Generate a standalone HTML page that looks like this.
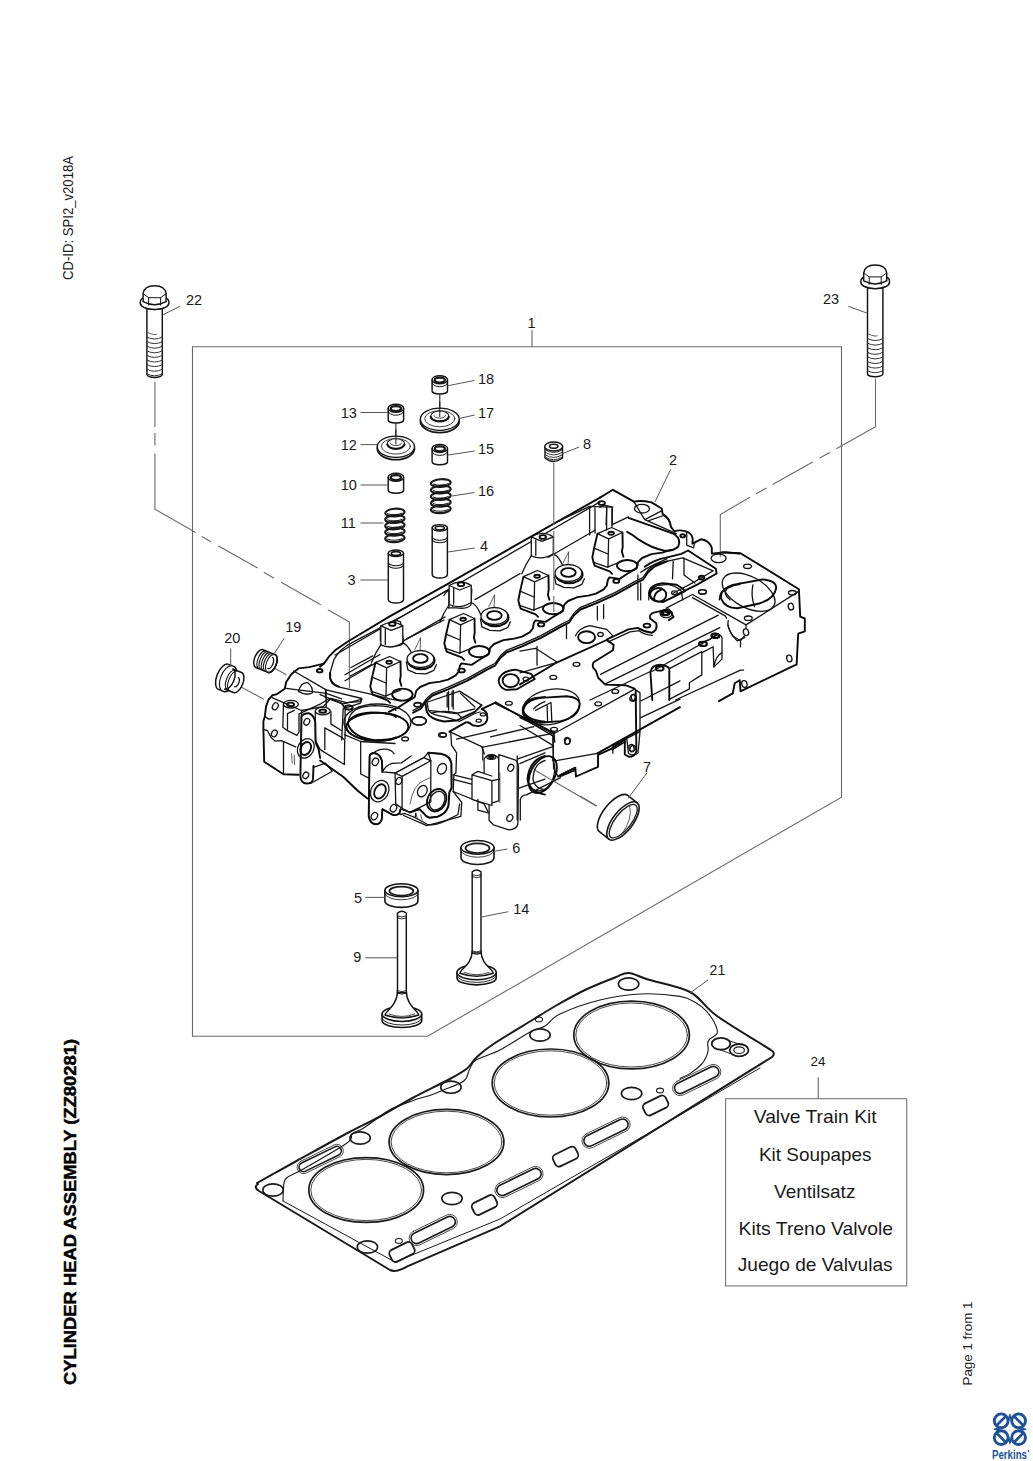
<!DOCTYPE html>
<html><head><meta charset="utf-8">
<style>
html,body{margin:0;padding:0;background:#fff;width:1033px;height:1461px;overflow:hidden}
svg{position:absolute;left:0;top:0;display:block}
text{font-family:"Liberation Sans",sans-serif;fill:#1a1a1a}
.fr{fill:none;stroke:#6a6a6a;stroke-width:1.1}
.ld{fill:none;stroke:#555;stroke-width:1}
.k{fill:#fff;stroke:#141414;stroke-width:1.45;stroke-linejoin:round;stroke-linecap:round}
.kn{fill:none;stroke:#141414;stroke-width:1.45;stroke-linejoin:round;stroke-linecap:round}
.t{fill:none;stroke:#333;stroke-width:0.8;stroke-linecap:round}
.h{fill:none;stroke:#141414;stroke-width:1.3;stroke-linejoin:round;stroke-linecap:round}
.hw{fill:#fff;stroke:#141414;stroke-width:1.3;stroke-linejoin:round;stroke-linecap:round}
.hb{fill:none;stroke:#0a0a0a;stroke-width:1.9;stroke-linejoin:round;stroke-linecap:round}
.hn{fill:none;stroke:#333;stroke-width:0.8;stroke-linejoin:round;stroke-linecap:round}
</style></head><body>
<svg width="1033" height="1461" viewBox="0 0 1033 1461">
<text transform="translate(72.5,280) rotate(-90)" font-size="15.5" textLength="124" lengthAdjust="spacingAndGlyphs">CD-ID: SPI2_v2018A</text>
<text transform="translate(76,1385) rotate(-90)" font-size="17.3" font-weight="bold" textLength="346" lengthAdjust="spacingAndGlyphs" style="fill:#000;stroke:#000;stroke-width:0.45">CYLINDER HEAD ASSEMBLY (ZZ80281)</text>
<text transform="translate(972,1385.5) rotate(-90)" font-size="13.3" textLength="84" lengthAdjust="spacingAndGlyphs">Page 1 from 1</text>
<path class="fr" d="M192.5,1036.3 L192.5,346.7 L841.5,346.7 L841.5,797.2 L427.5,1036.3 Z"/>
<path class="ld" d="M532,346.7 L532,330"/>
<text x="527.5" y="327.5" font-size="14.5">1</text>
<path class="fr" d="M154.9,381.7 V426.9 M154.9,433 V445.4 M154.9,453.6 V509.3 L195.7,532.5 M201.8,536.6 L211,541.7 M218.1,545.7 L257.7,568.1 M263.8,572.2 L274,578.3 M281.1,582.3 L320.8,604.7 M327.9,609.8 L349.4,622 V688"/>
<path class="fr" d="M875.5,378.5 V426.8 M875.5,426.8 L836.3,448.8 M830.2,452.2 L819.7,458.1 M812.7,462 L772.6,484.6 M766.5,488 L756,493.8 M749.9,497.3 L720.3,514.5 V557"/>
<path class="k" d="M146.9,303.2 V374.5 A7.7 3 0 0 0 162.3,374.5 V303.2 Z"/>
<path class="t" d="M147.9,332.5 Q154.6,335.7 156.6,334.3"/>
<path class="t" style="stroke-width:1" d="M146.9,337.1 Q154.6,341.1 162.3,337.1"/>
<path class="t" style="stroke-width:1" d="M146.9,341.7 Q154.6,345.7 162.3,341.7"/>
<path class="t" style="stroke-width:1" d="M146.9,346.3 Q154.6,350.3 162.3,346.3"/>
<path class="t" style="stroke-width:1" d="M146.9,350.9 Q154.6,354.9 162.3,350.9"/>
<path class="t" style="stroke-width:1" d="M146.9,355.5 Q154.6,359.5 162.3,355.5"/>
<path class="t" style="stroke-width:1" d="M146.9,360.1 Q154.6,364.1 162.3,360.1"/>
<path class="t" style="stroke-width:1" d="M146.9,364.7 Q154.6,368.7 162.3,364.7"/>
<path class="t" style="stroke-width:1" d="M146.9,369.3 Q154.6,373.3 162.3,369.3"/>
<path class="t" style="stroke-width:1" d="M146.9,373.9 Q154.6,377.9 162.3,373.9"/>
<path class="k" d="M140.3,303.2 A14.3 6.2 0 0 0 168.9,303.2 V301.7 A14.3 6.2 0 0 0 140.3,301.7 Z"/>
<path class="kn" style="stroke-width:0.9" d="M140.6,303.7 A14 6 0 0 0 168.6,303.7"/>
<path class="k" d="M143.1,301.7 V293.7 Q144.1,285.7 154.6,285.7 Q165.1,285.7 166.1,293.7 V301.7 Q154.6,307.7 143.1,301.7 Z"/>
<path class="kn" style="stroke-width:1" d="M143.1,293.7 L148.6,297.7 L160.6,297.7 L166.1,293.7 M148.6,297.7 V305.2 M160.6,297.7 V305.2"/>
<path class="k" d="M867.5,282.4 V373.8 A7.7 3 0 0 0 882.9,373.8 V282.4 Z"/>
<path class="t" d="M868.5,334 Q875.2,337.2 877.2,335.8"/>
<path class="t" style="stroke-width:1" d="M867.5,338.6 Q875.2,342.6 882.9,338.6"/>
<path class="t" style="stroke-width:1" d="M867.5,343.2 Q875.2,347.2 882.9,343.2"/>
<path class="t" style="stroke-width:1" d="M867.5,347.8 Q875.2,351.8 882.9,347.8"/>
<path class="t" style="stroke-width:1" d="M867.5,352.4 Q875.2,356.4 882.9,352.4"/>
<path class="t" style="stroke-width:1" d="M867.5,357 Q875.2,361 882.9,357"/>
<path class="t" style="stroke-width:1" d="M867.5,361.6 Q875.2,365.6 882.9,361.6"/>
<path class="t" style="stroke-width:1" d="M867.5,366.2 Q875.2,370.2 882.9,366.2"/>
<path class="t" style="stroke-width:1" d="M867.5,370.8 Q875.2,374.8 882.9,370.8"/>
<path class="k" d="M860.9,282.4 A14.3 6.2 0 0 0 889.5,282.4 V280.9 A14.3 6.2 0 0 0 860.9,280.9 Z"/>
<path class="kn" style="stroke-width:0.9" d="M861.2,282.9 A14 6 0 0 0 889.2,282.9"/>
<path class="k" d="M863.7,280.9 V272.9 Q864.7,264.9 875.2,264.9 Q885.7,264.9 886.7,272.9 V280.9 Q875.2,286.9 863.7,280.9 Z"/>
<path class="kn" style="stroke-width:1" d="M863.7,272.9 L869.2,276.9 L881.2,276.9 L886.7,272.9 M869.2,276.9 V284.4 M881.2,276.9 V284.4"/>
<text x="186" y="304.5" font-size="14.5">22</text>
<path class="ld" d="M163.2,314.7 L179.8,306.4"/>
<text x="823" y="304" font-size="14.5">23</text>
<path class="ld" d="M848.2,306.2 L867.2,313.2"/>
<g id="head">
<path class="hb" d="M272.6,695.2 L268.6,699.5 L266.1,706.3 L264.8,716.4 L263.4,721.2 L263.4,729.3 L264.2,761.8 L283.5,774.3 L298.6,774.8"/>
<path class="h" d="M283.5,742.2 L283.5,774.3"/>
<path class="h" d="M263.4,729.3 L267.5,730.7 L271,737.4 L275.3,741.2 L281.4,740.6 L295.7,746.9"/>
<path class="h" d="M264.8,716.4 L268.6,719.1 L271.9,718.5"/>
<ellipse class="h" cx="275.3" cy="706.3" rx="2.7" ry="3.7" transform="rotate(28 275.3 706.3)"/>
<ellipse class="h" cx="274.4" cy="733.4" rx="2.7" ry="3.5" transform="rotate(28 274.4 733.4)"/>
<path class="h" d="M283.5,703.6 L282.8,727.3 L287.5,730.7 L297,735.4 L299,732 L299,713.7"/>
<ellipse class="h" cx="290.9" cy="704.2" rx="7.5" ry="3.8"/>
<ellipse class="hb" cx="290.5" cy="704.4" rx="3.5" ry="1.8"/>
<path class="h" d="M287.5,729.3 L287.5,713.7 L294.3,710.3"/>
<path class="hn" d="M291.6,753.7 L292.3,763.2"/>
<path class="hn" d="M294.3,755.1 L294.6,764.5"/>
<path class="hb" d="M 301.4,716.4 L 300.4,776.7 Q 301.1,783.5 306.5,783.5 Q 311.9,783.5 313,779.4 L 313.5,765.9 M 301.4,716.4 Q 303.8,713 309.2,713.3 Q 314,715.1 315.3,722.5 L 315.7,742.9 L 318.7,749.6 L 320.1,757.8"/>
<ellipse class="h" cx="305.8" cy="748.3" rx="7.9" ry="10.2" transform="rotate(28 305.8 748.3)"/>
<ellipse class="hb" cx="305.8" cy="748.5" rx="4.9" ry="6.8" transform="rotate(28 305.8 748.5)"/>
<ellipse class="h" cx="306.8" cy="721.8" rx="2.7" ry="3.5" transform="rotate(28 306.8 721.8)"/>
<ellipse class="h" cx="305.8" cy="775.4" rx="2.7" ry="3.4" transform="rotate(28 305.8 775.4)"/>
<path class="h" d="M313.3,767.3 L325.5,763.2 L332.3,771.3 L310.6,783.5"/>
<path class="hb" d="M320.1,760.5 L343.1,776.7 L358,791 L367.5,798.4"/>
<path class="h" d="M299.7,713.7 L320.1,704.2 L328.9,698.8 L341.7,703.6 L344.4,707.6"/>
<ellipse class="h" cx="322.8" cy="711" rx="7.5" ry="3.8"/>
<ellipse class="hb" cx="322.8" cy="711.1" rx="3.5" ry="1.6"/>
<path class="h" d="M315.3,711 L315.3,740.1 L320.1,749.6 L344.4,764.5 L344.7,740.1 L341.7,737.4 L324.8,727.9 L324.8,749.6"/>
<path class="h" d="M330.9,711.7 L330.9,723.9 L341.7,730.7"/>
<path class="h" d="M341.7,703.6 L345.1,707.6 L345.1,738.8"/>
<ellipse class="h" cx="348.5" cy="707.6" rx="4.1" ry="2.2"/>
<path class="h" d="M 348.5,721.2 Q 349.9,706.3 374.3,705.6 Q 395,706.3 395.9,710.3"/>
<path class="hb" d="M 347.8,723.9 Q 349.9,713.7 371.6,712.4 Q 391.9,713 395.9,717.1 M 347.8,723.9 Q 352.6,737.4 374.3,740.1 Q 390.5,740.1 395.9,737.4"/>
<path class="h" d="M344.4,734.7 L360.7,741.5 L395,743.5"/>
<path class="h" d="M360.7,741.5 L360.7,774 L368.8,778.1"/>
<path class="h" d="M325.5,690 L325.5,698.1"/>
<ellipse class="h" cx="417.5" cy="704.8" rx="3.4" ry="1.9"/>
<ellipse class="h" cx="419.1" cy="721" rx="7.4" ry="4"/>
<ellipse class="h" cx="443.1" cy="735" rx="3.4" ry="1.9"/>
<ellipse class="h" cx="405.1" cy="738.9" rx="3.4" ry="1.9"/>
<ellipse class="h" cx="508.9" cy="703.2" rx="3.4" ry="1.9"/>
<ellipse class="h" cx="482.9" cy="714.4" rx="2.6" ry="1.5"/>
<ellipse class="h" cx="478.7" cy="720.7" rx="2.6" ry="1.5"/>
<path class="h" d="M481.8,746.9 L484.4,754"/>
<path class="h" d="M450.8,733.4 L451.6,745.1 L456.6,752.8 L455.9,772.9 L453.9,774.5 L453.2,791.5"/>
<path class="h" d="M453.2,774.8 L471.7,779.4"/>
<path class="h" d="M453.2,779.4 L471.7,784.1"/>
<path class="hb" d="M 522.9,711 Q 524.4,701.7 536.8,698.6 L 545,697 M 522.9,711 Q 527.5,720.3 545,721.8"/>
<path class="h" d="M 533.7,708.7 Q 539.9,703.2 545,701.7"/>
<path class="hb" d="M 545,755.9 Q 529,760.5 527.5,779.1 Q 529,791.5 545,794.6"/>
<path class="h" d="M 545,760.5 Q 533.7,763.6 532.9,779.1 Q 534.5,788.4 545,790"/>
<path class="h" d="M518.2,788.4 L545,779.1"/>
<path class="h" d="M519.8,763.6 L545,752.8"/>
<path class="h" d="M 403.6,815.5 L 426.8,825.6 L 460.9,816.3 L 461.7,802.4 L 453.2,791.5"/>
<path class="h" d="M453.2,791.5 L484.1,803.9 L488,811.7"/>
<path class="hn" d="M416,813.2 L417.5,819.4"/>
<path class="hn" d="M420.6,814.8 L422.2,820.2"/>
<path class="hw" d="M 484.1,774.5 L 484.1,759 Q 485.7,755.1 491.9,755.1 Q 498.1,755.6 498.8,759.3 L 498.8,776"/>
<ellipse class="h" cx="491.3" cy="757" rx="4.6" ry="2.3"/>
<ellipse class="hb" cx="491.3" cy="757.1" rx="2.2" ry="1.1"/>
<path class="hw" d="M 498.8,754.7 L 514.8,759.8 Q 518.5,762.1 518.5,766.7 L 517.9,824 Q 516.7,829.5 508.9,829.9 L 493.4,824.8 L 489.1,820.2 L 489.1,803.9 L 498.8,800.8 L 498.8,754.7"/>
<ellipse class="h" cx="510.8" cy="767.8" rx="2.8" ry="3.6" transform="rotate(28 510.8 767.8)"/>
<ellipse class="h" cx="509.8" cy="817.9" rx="2.8" ry="3.6" transform="rotate(28 509.8 817.9)"/>
<path class="hn" d="M499.9,772.9 L499.9,802.4"/>
<path class="hw" d="M 472,774.8 L 491.9,780.7 L 491.9,805.5 L 472,799.3 Z M 472,774.8 L 477.9,771.4 L 491.9,776"/>
<path class="h" d="M491.9,780.7 L499.6,779.1"/>
<path class="h" d="M477.9,799.3 L477.9,810.1 L489.1,813.2"/>
<path class="h" d="M 400.5,814.5 L 404.7,813.5 L 415.4,817.7 L 427.1,824.3 Q 434.5,826 445.2,821.1 L 458,814.5 L 459.6,803.9"/>
<path class="h" d="M415.4,817.7 L415.6,813.5"/>
<path class="hw" d="M 369.6,756 Q 370.4,753 374.4,753 Q 380.2,754.1 381.9,760.8 L 382.4,771.9 L 395.1,773 L 423.9,757.6 L 428.2,752.8 L 440.9,753.8 Q 450.5,756 451.4,763.4 L 451.6,787.9 L 449.4,792.2 L 448.4,806 Q 446.3,813.5 437.7,816.7 L 429.2,817.7 Q 426,816.7 423.9,813.5 L 419.6,809.2 L 410,812.4 L 400.5,809.2 L 399.4,813.5 Q 396.2,816.1 391.9,814.5 L 382.4,809.2 L 381.8,818.8 Q 381.1,823.6 376,824.3 Q 369.8,823.6 368.7,816.1 Z"/>
<path class="hb" d="M 369.6,756 Q 370.4,753 374.4,753 Q 380.2,754.1 381.9,760.8 L 382.4,771.9 M 369.6,756 L 368.7,816.1 Q 369.8,823.6 376,824.3 Q 381.1,823.6 381.8,818.8 L 382.4,809.2 L 391.9,814.5 Q 396.2,816.1 399.4,813.5 L 400.5,809.2"/>
<path class="h" d="M 382.4,771.9 Q 385.6,765.6 391.9,763.4 L 401.5,762.9 L 411.1,756 M 373.8,752.8 Q 378.1,748.5 386.6,749.1 Q 391.9,750.1 394.1,753.8"/>
<path class="hw" d="M 395.1,773.2 L 423.9,757.6 L 430.8,760.8 L 402.1,776.4 Z"/>
<path class="h" d="M 395.1,773.2 L 395.7,803.9 L 402.1,808.2 L 402.1,776.4 M 402.1,808.2 L 410,812.4 L 430.8,801.8 L 430.8,760.8"/>
<path class="hn" d="M 410,803.9 Q 413.2,784.7 423.9,780.5 L 430.8,777.3"/>
<path class="hb" d="M 428.2,752.8 L 440.9,753.8 Q 450.5,756 451.4,763.4 L 451.6,787.9 L 449.4,792.2 L 448.4,806 Q 446.3,813.5 437.7,816.7 L 429.2,817.7 Q 426,816.7 423.9,813.5 L 419.6,809.2 L 410,812.4"/>
<path class="h" d="M430.8,760.8 L428.2,752.8"/>
<ellipse class="h" cx="375.4" cy="761.8" rx="3" ry="3.8" transform="rotate(28 375.4 761.8)"/>
<ellipse class="h" cx="379.7" cy="791.1" rx="8.7" ry="11.2" transform="rotate(28 379.7 791.1)"/>
<ellipse class="hb" cx="380" cy="791.4" rx="5.3" ry="7.5" transform="rotate(28 380 791.4)"/>
<ellipse class="h" cx="374.4" cy="816.1" rx="3" ry="3.8" transform="rotate(28 374.4 816.1)"/>
<ellipse class="h" cx="393.5" cy="808.2" rx="3" ry="3.8" transform="rotate(28 393.5 808.2)"/>
<ellipse class="h" cx="398.9" cy="781" rx="2.8" ry="3.6" transform="rotate(28 398.9 781)"/>
<ellipse class="h" cx="422.3" cy="791.1" rx="4.5" ry="6" transform="rotate(28 422.3 791.1)"/>
<ellipse class="hb" cx="436.7" cy="800.2" rx="9.2" ry="11.7" transform="rotate(28 436.7 800.2)"/>
<ellipse class="h" cx="437.1" cy="800.7" rx="7.2" ry="9.8" transform="rotate(28 437.1 800.7)"/>
<ellipse class="h" cx="442" cy="768.8" rx="4.3" ry="5.5" transform="rotate(28 442 768.8)"/>
<path class="hb" d="M453.2,580.8 L389.7,616.4 L347.1,642 L335.5,650 L329.3,656.2 L323.9,663.6 L320,666.7"/>
<path class="h" d="M 453.2,587 L 400.5,617.2 L 352.5,642.3 Q 339.4,648.9 333.9,659.8 L 329.6,674.5 Q 329.6,684.5 339.4,687.2 L 369.6,693.8 L 392,699.3 L 401.3,700.8"/>
<path class="hb" d="M 330.1,672.9 Q 329,684.1 338.9,686.6"/>
<path class="h" d="M 351,667.5 L 372.7,655.9 M 406.7,638.9 L 443.9,620 M 350.2,676 L 371.9,664.4"/>
<path class="hw" d="M 386.6,629.3 Q 388.2,621.8 397.4,620.6 L 400.5,621.8 L 403.6,642 Q 402.1,646.6 392.8,645.8 L 386.6,642 Z"/>
<ellipse class="hb" cx="392.3" cy="624.9" rx="3.4" ry="1.9"/>
<path class="h" d="M 380.4,629.6 L 380.4,640.7 M 385.1,630.8 L 385.1,640.1 M 448.9,589.6 L 448.9,607.9 M 452.9,588.1 L 452.9,606.6"/>
<path class="h" d="M 443.9,595.5 Q 447,589.3 456.3,587.7 L 468.7,586.2 L 471.8,589.3 L 471,604.8 Q 467.1,609.4 456.3,607.9 L 448.6,607.9"/>
<ellipse class="hb" cx="460.9" cy="584.3" rx="3.4" ry="1.9"/>
<ellipse class="h" cx="417.9" cy="704.7" rx="3.9" ry="2.2"/>
<ellipse class="h" cx="419.1" cy="720.9" rx="7" ry="4.3"/>
<ellipse class="h" cx="349.1" cy="707.3" rx="3.9" ry="2.2"/>
<ellipse class="h" cx="442.4" cy="734.9" rx="3.9" ry="2.2"/>
<path class="h" d="M 320,694.6 L 343.2,703.9 L 361.8,699.3 L 360.6,703.1 L 343.2,708.6 L 341.7,740"/>
<path class="h" d="M 426.9,700.8 L 428.4,710.4 Q 431.5,715.1 443.9,716.6 L 459.4,721.3 L 474.9,713.5 L 480,712 M 428.4,710.4 L 456.3,713.5 L 474.9,708.9"/>
<path class="h" d="M 448.6,691.5 L 448.6,710.1 M 453.2,690.3 L 453.2,709.3 M 460.2,693.1 L 474.9,707"/>
<path class="h" d="M335,655 L600,501.9"/>
<path class="h" d="M345,674.7 L380,654.5"/>
<path class="h" d="M400,642.9 L445,616.9"/>
<path class="h" d="M475,599.6 L520,573.6"/>
<path class="h" d="M548,557.5 L595,530.3"/>
<path class="h" d="M345,680.7 L378,661.6"/>
<path class="hw" d="M380.8,625.9 L380.8,644.9 Q391.3,649.9 402.8,642.9 L402.8,625.9 Q392.3,618.9 380.8,625.9 Z"/>
<path class="h" d="M385.3,628.9 L385.3,644.4"/>
<path class="h" d="M380.8,625.9 L391.3,630.4 L402.8,625.9"/>
<path class="h" d="M380.8,644.9 Q375.3,652.9 371.3,662.9 M402.8,642.9 Q408.3,644.9 412.3,654.9"/>
<path class="hw" d="M449.2,585.5 L449.2,604.5 Q459.7,609.5 471.2,602.5 L471.2,585.5 Q460.7,578.5 449.2,585.5 Z"/>
<path class="h" d="M453.7,588.5 L453.7,604"/>
<path class="h" d="M449.2,585.5 L459.7,590 L471.2,585.5"/>
<path class="h" d="M449.2,604.5 Q443.7,612.5 439.7,622.5 M471.2,602.5 Q476.7,604.5 480.7,614.5"/>
<path class="hw" d="M531.3,536.8 L531.3,555.8 Q541.8,560.8 553.3,553.8 L553.3,536.8 Q542.8,529.8 531.3,536.8 Z"/>
<path class="h" d="M535.8,539.8 L535.8,555.3"/>
<path class="h" d="M531.3,536.8 L541.8,541.3 L553.3,536.8"/>
<path class="h" d="M531.3,555.8 Q525.8,563.8 521.8,573.8 M553.3,553.8 Q558.8,555.8 562.8,565.8"/>
<path class="hn" d="M414.9,649.3 L420.7,637.7 L420.1,649.3"/>
<ellipse class="hb" cx="421.2" cy="660.5" rx="13.4" ry="8.7"/>
<ellipse class="hw" cx="420.4" cy="659" rx="13.4" ry="8.5"/>
<ellipse class="hb" cx="420.4" cy="658.5" rx="7.3" ry="4.4"/>
<path class="h" d="M406.4,661.8 L407.9,669.8 L415.9,673.3 L425.9,673.8 L433.9,670.3 L436.4,664.8"/>
<ellipse class="hb" cx="402.4" cy="694.6" rx="10.2" ry="6"/>
<path class="hw" d="M375.5,662.6 L389.5,656.5 L400.5,661.5 L386.6,667.9 Z"/>
<ellipse class="hb" cx="389.1" cy="662.2" rx="2.8" ry="1.5"/>
<path class="h" d="M386.6,667.9 L386,695.8"/>
<path class="hb" d="M375.5,662.6 L372.1,677.2 L370.3,686.5 L372.6,694.6 L387.7,700.4 L390.1,702.8"/>
<path class="hb" d="M400.5,661.5 L400.7,675.8 L399.9,680.8 L401.4,685.8"/>
<path class="h" d="M372.1,677.2 L386,683"/>
<path class="h" d="M370.9,691.1 L386,696.3"/>
<path class="h" d="M386,695.8 L400.9,689.8"/>
<path class="hn" d="M488.9,606.3 L494.7,594.7 L494.1,606.3"/>
<ellipse class="hb" cx="495.2" cy="617.5" rx="13.4" ry="8.7"/>
<ellipse class="hw" cx="494.4" cy="616" rx="13.4" ry="8.5"/>
<ellipse class="hb" cx="494.4" cy="615.5" rx="7.3" ry="4.4"/>
<path class="h" d="M480.4,618.8 L481.9,626.8 L489.9,630.3 L499.9,630.8 L507.9,627.3 L510.4,621.8"/>
<ellipse class="hb" cx="479.2" cy="651.6" rx="10.2" ry="5.6"/>
<path class="hw" d="M449.5,619.6 L463.5,613.5 L474.5,618.5 L460.6,624.9 Z"/>
<ellipse class="hb" cx="463.1" cy="619.2" rx="2.8" ry="1.5"/>
<path class="h" d="M460.6,624.9 L460,652.8"/>
<path class="hb" d="M449.5,619.6 L446.1,634.2 L444.3,643.5 L446.6,651.6 L461.7,657.4 L464.1,659.8"/>
<path class="hb" d="M474.5,618.5 L474.7,632.8 L473.9,637.8 L475.4,642.8"/>
<path class="h" d="M446.1,634.2 L460,640"/>
<path class="h" d="M444.9,648.1 L460,653.3"/>
<path class="h" d="M460,652.8 L474.9,646.8"/>
<path class="hn" d="M562.9,563.3 L568.7,551.7 L568.1,563.3"/>
<ellipse class="hb" cx="569.2" cy="574.5" rx="13.4" ry="8.7"/>
<ellipse class="hw" cx="568.4" cy="573" rx="13.4" ry="8.5"/>
<ellipse class="hb" cx="568.4" cy="572.5" rx="7.3" ry="4.4"/>
<path class="h" d="M554.4,575.8 L555.9,583.8 L563.9,587.3 L573.9,587.8 L581.9,584.3 L584.4,578.8"/>
<ellipse class="hb" cx="553.2" cy="608.6" rx="10.2" ry="5.6"/>
<path class="hw" d="M523.5,576.6 L537.5,570.5 L548.5,575.5 L534.6,581.9 Z"/>
<ellipse class="hb" cx="537.1" cy="576.2" rx="2.8" ry="1.5"/>
<path class="h" d="M534.6,581.9 L534,609.8"/>
<path class="hb" d="M523.5,576.6 L520.1,591.2 L518.3,600.5 L520.6,608.6 L535.7,614.4 L538.1,616.8"/>
<path class="hb" d="M548.5,575.5 L548.7,589.8 L547.9,594.8 L549.4,599.8"/>
<path class="h" d="M520.1,591.2 L534,597"/>
<path class="h" d="M518.9,605.1 L534,610.3"/>
<path class="h" d="M534,609.8 L548.9,603.8"/>
<ellipse class="hb" cx="627.2" cy="565.6" rx="10.2" ry="5.6"/>
<path class="hw" d="M597.5,533.6 L611.5,527.5 L622.5,532.5 L608.6,538.9 Z"/>
<ellipse class="hb" cx="611.1" cy="533.2" rx="2.8" ry="1.5"/>
<path class="h" d="M608.6,538.9 L608,566.8"/>
<path class="hb" d="M597.5,533.6 L594.1,548.2 L592.3,557.5 L594.6,565.6 L609.7,571.4 L612.1,573.8"/>
<path class="hb" d="M622.5,532.5 L622.7,546.8 L621.9,551.8 L623.4,556.8"/>
<path class="h" d="M594.1,548.2 L608,554"/>
<path class="h" d="M592.9,562.1 L608,567.3"/>
<path class="h" d="M608,566.8 L622.9,560.8"/>
<path class="hb" d="M397.6,707.9 L404.6,703.3 L414.7,697.1 L416.2,690.9 L420.1,687 L429.4,683.1 L440.2,681.6 L448,679.7 L455.7,675.4 L458.8,671.5 L459.9,665.8 L461.5,663.4 L471.6,664.9 L478.6,660.3 L488.7,654.1 L490.2,647.9 L494.1,644 L503.4,640.1 L514.2,638.6 L522,636.7 L529.7,632.4 L532.8,628.5 L533.9,622.8 L535.5,620.4 L545.6,621.9 L552.6,617.3 L562.7,611.1 L564.2,604.9 L568.1,601 L577.4,597.1 L588.2,595.6 L596,593.7 L603.7,589.4 L606.8,585.5 L607.9,579.8 L609.5,577.4 L619.6,578.9 L626.6,574.3 L636.7,568.1 L638.2,561.9 L642.1,558 L651.4,554.1 L662.2,552.6 L670.9,549.8"/>
<path class="h" d="M413.1,710.4 L420.9,706.5 L426.3,698.8 L432.5,693.3 L448,687.1 L466.9,678.6 L487.1,667.4 L494.9,663.5 L500.3,655.8 L506.5,650.3 L522,644.1 L540.9,635.6 L561.1,624.4 L568.9,620.5 L574.3,612.8 L580.5,607.3 L596,601.1 L614.9,592.6 L635.1,581.4 L642.9,577.5 L648.3,569.8 L654.5,564.3 L666.9,558.8"/>
<path class="hb" d="M413.1,712.6 L420.9,708.7 L426.3,701 L432.5,695.5 L448,689.3 L466.9,680.8 L487.1,669.6 L494.9,665.7 L500.3,658 L506.5,652.5 L522,646.3 L540.9,637.8 L561.1,626.6 L568.9,622.7 L574.3,615 L580.5,609.5 L596,603.3 L614.9,594.8 L635.1,583.6 L642.9,579.7 L648.3,572 L654.5,566.5 L666.9,561.3"/>
<path class="hb" d="M397.6,707.9 L392.9,709.8 L388.9,711.8"/>
<ellipse class="hb" cx="392.3" cy="623.9" rx="3.2" ry="1.9"/>
<ellipse class="hb" cx="461" cy="584.2" rx="3.2" ry="1.9"/>
<ellipse class="hb" cx="542.8" cy="537" rx="3.2" ry="1.9"/>
<ellipse class="hb" cx="601.7" cy="503" rx="3.2" ry="1.9"/>
<path class="hb" d="M453,580.8 L600,497.6"/>
<path class="hb" d="M323.9,663.6 L309.2,667.1 L298.4,668.4 L291.6,673.9 L286.2,682 L284.8,688.8 L276.7,694.2 L272.6,695.1"/>
<ellipse class="hb" cx="461.6" cy="670.5" rx="3.2" ry="1.9"/>
<ellipse class="hb" cx="541.1" cy="624.5" rx="3.2" ry="1.9"/>
<path class="h" d="M558.6,521.1 L589.6,506.4 L611.3,507.2"/>
<path class="h" d="M589.6,507.2 L589.6,535"/>
<path class="h" d="M595,508 L595,533"/>
<path class="h" d="M606.6,507.5 L606.6,530"/>
<path class="h" d="M612,509 L612,527"/>
<path class="hb" d="M 600,497.6 L 612.9,489.8 L 633.9,501.7 Q 640.7,500.1 651.5,502.4 L 661.7,508.5 L 662.6,513.9 Q 669.8,517.7 671.2,527.4 L 674.3,531.2 Q 681.3,529.1 688.1,532.2 Q 692.7,534.9 692.7,539.6 L 692.4,543.7 L 701.4,539.2 Q 709.1,540.3 711.8,547.8 L 711.8,553.6 L 725,552.2 L 739.5,553.6"/>
<path class="h" d="M 600,507.1 L 604.1,505.1 L 612.9,507.1 M 606.8,507.1 L 606.1,524.7 M 612.2,507.1 L 612.2,524.7 M 612.2,524.7 L 628.5,516.9"/>
<path class="hb" d="M 628.5,517.9 Q 643.4,523.1 654.2,526.8 L 674.5,534.2 Q 681.6,539.6 678.2,546.7 Q 673.2,551.4 663.7,550.5 Q 651.5,548 639.3,539.9 Q 632.5,534.5 627.1,531.8"/>
<path class="h" d="M 644.7,519.6 L 662.3,527.4 L 676.2,533.7 M 633.9,501.7 L 644.7,519.6"/>
<ellipse class="h" cx="642" cy="508.7" rx="7.5" ry="4.3"/>
<path class="h" d="M 645.4,519.3 L 661,511.2 M 648.8,520.7 L 663.7,515.5 M 663.7,515.5 Q 669.8,519.3 670.5,526.1"/>
<ellipse class="hb" cx="682.7" cy="535.8" rx="2.4" ry="1.6"/>
<path class="h" d="M 686.7,531.5 L 686.7,545.1 L 693.5,547.8 M 694.9,542.3 L 693.5,547.8"/>
<ellipse class="hb" cx="616.3" cy="581" rx="3" ry="1.9"/>
<ellipse class="h" cx="702.3" cy="591.8" rx="3.8" ry="2.2"/>
<ellipse class="hb" cx="701.6" cy="577.6" rx="2.7" ry="1.9"/>
<path class="hb" d="M 644.7,566.7 Q 654.2,560 665.1,557.9 L 681.3,553.9 L 688.1,550.5 L 715.9,568.8 L 716.6,573.5 L 697.6,584.4 L 675.9,595.2"/>
<path class="h" d="M 640.7,572.2 Q 651.5,564.7 663.7,562 L 682.7,557.9 L 713.2,570.8 L 694.9,581.6 L 673.2,593.2"/>
<path class="h" d="M 673.2,561.3 L 672.5,578.9 M 684,557.9 L 684,574.9 L 694.9,583 M 640.7,583 L 640.7,599.9 M 637.9,574.9 L 637.9,599.9"/>
<path class="h" d="M 648.8,599.9 Q 647.4,589.8 656.9,585.7 L 667.8,584.4 Q 675.9,585.7 681.3,591.1 L 682.7,599.9"/>
<path class="hb" d="M 654.2,599.9 Q 653.5,592.5 661,589.8"/>
<ellipse class="h" cx="718.6" cy="558.3" rx="7.5" ry="4.3"/>
<path class="h" d="M 730.1,599.9 Q 722,593.8 727.4,588.4 L 740,583 M 719.3,599.9 Q 719.3,589.8 730.1,586.4 L 740,584.4"/>
<path class="hb" d="M 722,552.4 L 740.5,553.2 L 798.9,589.3 L 800.2,616.7 L 804.8,618.5 L 804.8,631.4 L 798.2,633.7 L 796.6,664.7 L 793.5,665.8 L 740.5,691.3 L 739.8,680.2 L 734.7,683.3 L 732.8,693.3 L 718.9,701.1"/>
<path class="h" d="M 798.9,591.1 L 746,624.9 L 692.5,594.5 L 666.2,608.2 L 666.2,612.8"/>
<path class="h" d="M 692.5,597.6 L 725.1,615.9 L 726.6,618.2"/>
<ellipse class="h" cx="748.6" cy="592.2" rx="28.7" ry="15.5" transform="rotate(28 748.6 592.2)"/>
<path class="hb" d="M 721.2,598.9 Q 718.9,589.6 732.8,584.9 L 762.2,579.5 Q 776.2,580.3 776.2,588 Q 774.6,598.9 759.1,603.5 L 737.4,608.2 Q 725.1,608.2 721.2,598.9 Z"/>
<path class="h" d="M 752.9,584.9 Q 750.6,595.8 754.5,606.6"/>
<ellipse class="h" cx="747.5" cy="566.3" rx="3.9" ry="2.2"/>
<ellipse class="h" cx="702.6" cy="591.9" rx="3.9" ry="2.2"/>
<ellipse class="h" cx="792.4" cy="592.7" rx="3.9" ry="2.2"/>
<ellipse class="h" cx="748.3" cy="618.2" rx="3.9" ry="2.2"/>
<ellipse class="h" cx="715" cy="635.3" rx="3.9" ry="2.2"/>
<ellipse class="h" cx="702.6" cy="643.8" rx="3.9" ry="2.2"/>
<ellipse class="h" cx="790.9" cy="606.6" rx="2.6" ry="3.4" transform="rotate(-15 790.9 606.6)"/>
<ellipse class="h" cx="746" cy="632.2" rx="2.6" ry="3.4" transform="rotate(-15 746 632.2)"/>
<ellipse class="h" cx="789.3" cy="658.5" rx="2.6" ry="3.4" transform="rotate(-15 789.3 658.5)"/>
<ellipse class="h" cx="744.4" cy="684" rx="2.6" ry="3.4" transform="rotate(-15 744.4 684)"/>
<ellipse class="h" cx="666.2" cy="613.6" rx="6.2" ry="4"/>
<ellipse class="hb" cx="666.2" cy="613.1" rx="3.4" ry="1.9"/>
<path class="h" d="M 728.2,620.5 Q 726.6,626.7 732.8,636 L 740.5,640.7 L 744.4,636 M 740.5,640.7 L 740.5,646.9"/>
<path class="h" d="M 746,624.9 L 746,628.3"/>
<path class="h" d="M 675.5,700 L 740.5,670.1 L 743.6,670.1"/>
<path class="hb" d="M 520,684.4 L 557.2,662.3 L 606.7,640 L 613.7,644.9 L 612.9,650.3 L 593.6,662.3 Q 590.9,666.9 595.9,670.8 L 598.2,677.8 L 605.2,684.6 L 625.3,685.2 L 634.6,688.6"/>
<path class="h" d="M 634.6,689.1 L 553.3,734 L 520,717.7"/>
<path class="h" d="M 553.3,734 L 553.3,761.1 M 634.6,689.1 L 640,692.9 L 640,731.7 L 612.9,745.6 M 626.9,739.4 L 628.4,753.3 Q 633.1,756.7 638,753.3 L 640,731.7"/>
<path class="hb" d="M 597.4,753.3 L 680,707.2"/>
<path class="h" d="M 612.9,745.6 L 612.9,753.3 M 553.3,761.1 L 597.4,753.3"/>
<ellipse class="h" cx="551" cy="706.9" rx="29.1" ry="17.3" transform="rotate(-12 551 706.9)"/>
<path class="hb" d="M 523.1,709.2 Q 525.4,696.8 544.8,697.6 L 566.5,696.3 Q 580.7,697.6 579.6,705.6 Q 577.6,717.7 560.6,721.1 L 540.1,722.7 Q 524.3,721.4 523.1,709.2 Z"/>
<path class="h" d="M 535.5,710.3 L 551,702.5 L 551.8,721.1 M 547.1,705.3 L 547.6,721.6"/>
<ellipse class="h" cx="576.5" cy="664.3" rx="3.4" ry="2"/>
<ellipse class="h" cx="553.3" cy="677.4" rx="3.4" ry="2"/>
<ellipse class="h" cx="615.3" cy="691.4" rx="3.4" ry="2"/>
<ellipse class="h" cx="598.2" cy="703.8" rx="3.4" ry="2"/>
<ellipse class="h" cx="554.1" cy="729.3" rx="3.4" ry="2"/>
<ellipse class="h" cx="633.8" cy="697.6" rx="2.5" ry="3.4" transform="rotate(-15 633.8 697.6)"/>
<ellipse class="h" cx="567.2" cy="740.9" rx="2.5" ry="3.4" transform="rotate(-15 567.2 740.9)"/>
<ellipse class="h" cx="631.5" cy="747.9" rx="2.5" ry="3.4" transform="rotate(-15 631.5 747.9)"/>
<path class="h" d="M 600.5,674.3 L 718.3,615.2 M 604.4,684.4 L 719.8,627.6 M 640.8,701 L 680,680.9 M 640.8,717.7 L 680,699.1"/>
<path class="h" d="M 575.5,635.9 Q 578.9,627.9 589.7,625.6 L 606.7,629.4 L 612.9,635.9 L 606.7,640"/>
<ellipse class="hb" cx="586.6" cy="637.2" rx="8.5" ry="5.9"/>
<ellipse class="h" cx="600.5" cy="634.4" rx="2.8" ry="1.9"/>
<path class="hb" d="M 606.7,639.5 L 628.4,629.4 L 637.7,627.9 Q 643.9,631.8 651.7,632.8 Q 657.9,630.2 656.3,623.2 L 650.1,618.6 Q 648.6,613.9 654.8,612.4 L 668.7,609.3 L 673.6,617 L 668.7,620.1"/>
<path class="h" d="M 608.3,641.8 L 630,631.8 L 639.3,630.7 Q 643.9,634.8 652.4,635.3"/>
<ellipse class="hb" cx="647" cy="625.6" rx="3.4" ry="2"/>
<ellipse class="hb" cx="664.8" cy="613.2" rx="3.4" ry="2"/>
<path class="h" d="M 535.5,648.3 L 557.2,662.3 M 520,672.8 L 557.2,662.3 M 537,646.5 L 537,665.1 M 520,651.1 L 535.5,648.3"/>
<path class="h" d="M 566.5,624.8 L 566.5,638.7 M 597.4,606.2 L 597.4,620.1 M 603.6,604.6 L 603.6,618.6"/>
<path class="h" d="M 520,725.5 L 553.3,745.6"/>
<path class="hb" d="M 635.7,691 L 636.4,751.4 Q 634.9,756.8 628.7,756.8 L 624.8,754.5 L 624.8,739.3 L 611.7,748.6 L 598,754.8 L 598,766.9 L 576,776.5 L 575.3,767.6 L 558.2,776.5"/>
<path class="h" d="M 552.8,735.9 L 553.6,768.4 L 558.2,776.5 M 611.7,748.6 L 624.8,739.8 M 559.8,774.9 L 573.7,768.4"/>
<path class="hb" d="M 612.4,749.5 L 624.8,741.8 M 560.5,776.2 L 574.5,770.3"/>
<ellipse class="h" cx="632.6" cy="748.6" rx="2.5" ry="3.4" transform="rotate(28 632.6 748.6)"/>
<ellipse class="h" cx="567.5" cy="741.3" rx="2.5" ry="3.4" transform="rotate(28 567.5 741.3)"/>
<ellipse class="h" cx="632.6" cy="697.9" rx="2.5" ry="3.4" transform="rotate(28 632.6 697.9)"/>
<ellipse class="hb" cx="542.7" cy="774.6" rx="12.1" ry="19.8" transform="rotate(28 542.7 774.6)"/>
<path class="h" d="M 531.9,789.3 Q 543.5,794.8 551.6,782.4 Q 557.4,768.4 552.5,759.1"/>
<path class="fr" d="M 535,770.3 L 596.2,805.9"/>
<path class="h" d="M 495.5,701.8 L 552.8,735.9"/>
<path class="h" d="M 517.2,756 L 517.2,820 M 517.2,759.1 L 552.8,746.7"/>
<path class="h" d="M 520.3,820 L 520.3,799.4 Q 521.8,794.8 526.5,794.8 L 560.5,777.7"/>
<path class="hb" d="M 425.2,701.6 L 426.7,711.6 Q 429.8,719.3 444.1,721.5 L 456.5,720.5 L 475.1,711.6 L 481.6,705.1"/>
<path class="h" d="M 427.8,702 L 459.6,691.1 L 481.6,705.1"/>
<path class="h" d="M 447.2,692.7 L 447.2,706.9 M 452.1,691.1 L 452.1,706.6"/>
<path class="h" d="M 431.7,713.1 Q 441,710 456.5,712.8 L 461.9,717.8"/>
<path class="hb" d="M 498.6,680.6 Q 500.6,670.7 515.3,669.7 L 531.1,673.8 L 534.7,679 L 516.9,689.3 L 506,689.9 Q 499.5,688 498.6,680.6"/>
<ellipse class="hb" cx="510.7" cy="680.6" rx="8.1" ry="6.5"/>
<ellipse class="h" cx="525.9" cy="679" rx="2.8" ry="1.9"/>
<path class="hb" d="M 449.5,731.7 L 465.8,722.4 Q 469.2,721.5 472.3,725.2 L 478.5,726.1 Q 487.4,724.6 487.4,717.8 L 486.7,713.1 Q 484.7,710 481.6,709.1 L 494.9,702.9 L 554,732.9"/>
<path class="h" d="M 449.5,731.7 L 482.8,747.2 L 482.8,760 M 482.8,747.2 L 554,733.2"/>
<path class="h" d="M 456.5,739.1 L 496.7,729.8 M 490.5,736.8 L 533.9,726.7"/>
<path class="h" d="M 554,732.9 L 554.8,742.2"/>
<path class="hb" d="M 648.9,593.3 Q 649.6,584.5 662.8,583.2 L 676.7,584.8 L 682.9,588.7 L 684.8,591.3 L 662.8,602.1 Q 652,602.1 648.9,593.3"/>
<ellipse class="hb" cx="658.2" cy="594.8" rx="8.1" ry="6.8"/>
<ellipse class="h" cx="674.4" cy="592.8" rx="2.8" ry="1.9"/>
<path class="hb" d="M 650.4,671.8 Q 651.6,665.3 659.7,664.7 Q 667.8,665.3 669.3,668.7 L 669.3,700 M 650.4,671.8 L 652.3,700"/>
<path class="h" d="M 669.3,668.7 L 701.8,651.7 L 701.8,674.9 L 689.4,682.7 L 689.4,688.9 L 669.3,699.4"/>
<path class="h" d="M 701.8,644.4 Q 703.8,640.5 709.3,639.8 L 713.9,635.9 Q 720.1,632.8 722,637.4 L 722,659.1 L 713.9,666.9 L 713.1,646.7 L 701.8,652.9"/>
<path class="h" d="M 713.9,666.9 Q 715.5,656 721.7,652.9"/>
<ellipse class="hb" cx="659.7" cy="668.4" rx="3.9" ry="2.2"/>
<ellipse class="hb" cx="703.1" cy="643.9" rx="3.9" ry="2.2"/>
<ellipse class="hb" cx="715.5" cy="635.9" rx="3.9" ry="2.2"/>
<path class="h" d="M 652,671.5 L 718.6,634.3 M 590,700 L 650.4,671.5"/>
<path class="h" d="M 727.9,625.1 Q 729.4,632.8 737.1,640.9 L 744.9,637.4"/>
<ellipse class="h" cx="377.4" cy="722.5" rx="33.5" ry="18.5"/>
<ellipse class="hb" cx="377.4" cy="726.7" rx="31" ry="14"/>
<path class="h" d="M 298.4,691.4 Q 301.2,682.1 307.7,682.7 Q 313.2,686.5 312.3,693 Q 306.1,696.1 298.4,691.4"/>
<path class="h" d="M 293.7,671 L 326.2,689.9 L 361.9,698.5 L 360.6,701.6 L 346.4,702.7"/>
<path class="h" d="M 286,688.3 L 326.2,693.4 L 341.7,698.9"/>
<path class="h" d="M 272,697.6 L 301.5,710.5 L 301.5,735.3 M 301.5,710.5 L 323.2,706.6 L 330.9,698.5 L 345.6,702.3 M 326.2,689.9 L 326.2,706.6"/>
<ellipse class="h" cx="348.7" cy="707.4" rx="3.4" ry="2"/>
<ellipse class="hb" cx="319.7" cy="670.7" rx="2.8" ry="1.7"/>
</g>
<path class="kn" style="stroke-width:1" d="M395.9,423 L395.9,445"/>
<ellipse class="k" cx="395.9" cy="448.6" rx="18.6" ry="11.1" style="stroke-width:1.8"/>
<ellipse class="k" cx="395.9" cy="446.8" rx="18.6" ry="10.6" style="stroke-width:1.3"/>
<ellipse class="kn" style="stroke-width:0.8" cx="395.9" cy="446.3" rx="14.5" ry="7.8"/>
<ellipse cx="395.9" cy="443.8" rx="8.7" ry="5" fill="#fff" stroke="#1a1a1a" stroke-width="1.1"/>
<path d="M387.2,443.8 A8.7 5 0 0 0 404.6,443.8" fill="none" stroke="#111" stroke-width="2.2"/>
<path d="M390.3,442.8 A5.6 2.8 0 0 0 401.5,442.8" fill="none" stroke="#333" stroke-width="0.9"/>
<path class="kn" style="stroke-width:1" d="M395.9,430 L395.9,444"/>
<path class="k" d="M388.2,408.2 V420 A7.7 3 0 0 0 403.6,420 V408.2 Z"/>
<ellipse class="k" cx="395.9" cy="408.2" rx="7.7" ry="4.0"/>
<ellipse cx="395.9" cy="408.6" rx="5.1" ry="2.5" fill="none" stroke="#1a1a1a" stroke-width="2.2"/>
<path class="kn" style="stroke-width:1" d="M388.2,411.2 A7.7 4.0 0 0 0 403.6,411.2"/>
<path class="k" d="M388.2,477.2 V490.3 A7.7 3 0 0 0 403.6,490.3 V477.2 Z"/>
<ellipse class="k" cx="395.9" cy="477.2" rx="7.7" ry="4.0"/>
<ellipse cx="395.9" cy="477.6" rx="5.1" ry="2.5" fill="none" stroke="#1a1a1a" stroke-width="2.2"/>
<ellipse cx="394.9" cy="512.6" rx="9.7" ry="3.9" fill="none" stroke="#1a1a1a" stroke-width="2.1" transform="rotate(-4 394.9 512.6)"/>
<path d="M387.2,513.4 Q394.9,516.2 402.6,512.9" fill="none" stroke="#222" stroke-width="1.1"/>
<ellipse cx="394.9" cy="519" rx="9.7" ry="3.9" fill="none" stroke="#1a1a1a" stroke-width="2.1" transform="rotate(-4 394.9 519)"/>
<path d="M387.2,519.8 Q394.9,522.6 402.6,519.3" fill="none" stroke="#222" stroke-width="1.1"/>
<ellipse cx="394.9" cy="525.4" rx="9.7" ry="3.9" fill="none" stroke="#1a1a1a" stroke-width="2.1" transform="rotate(-4 394.9 525.4)"/>
<path d="M387.2,526.2 Q394.9,529 402.6,525.7" fill="none" stroke="#222" stroke-width="1.1"/>
<ellipse cx="394.9" cy="531.8" rx="9.7" ry="3.9" fill="none" stroke="#1a1a1a" stroke-width="2.1" transform="rotate(-4 394.9 531.8)"/>
<path d="M387.2,532.6 Q394.9,535.4 402.6,532.1" fill="none" stroke="#222" stroke-width="1.1"/>
<ellipse cx="394.9" cy="538.2" rx="9.7" ry="3.9" fill="none" stroke="#1a1a1a" stroke-width="2.1" transform="rotate(-4 394.9 538.2)"/>
<path d="M387.2,539 Q394.9,541.8 402.6,538.5" fill="none" stroke="#222" stroke-width="1.1"/>
<path class="k" d="M388.3,553.2 V599.8 A7.6 3.2 0 0 0 403.5,599.8 V553.2 Z"/>
<ellipse class="k" cx="395.9" cy="553.2" rx="7.6" ry="3.2"/>
<ellipse class="kn" style="stroke-width:1.6" cx="395.9" cy="553.5" rx="4.6" ry="1.9000000000000001"/>
<path class="kn" style="stroke-width:1.1" d="M388.3,562.5 A7.6 3.2 0 0 0 403.5,562.5 M388.3,565 A7.6 3.2 0 0 0 403.5,565"/>
<path class="kn" style="stroke-width:1" d="M439.8,394 L439.8,417"/>
<ellipse class="k" cx="439.8" cy="421" rx="19.4" ry="11.6" style="stroke-width:1.8"/>
<ellipse class="k" cx="439.8" cy="419.2" rx="19.4" ry="11.1" style="stroke-width:1.3"/>
<ellipse class="kn" style="stroke-width:0.8" cx="439.8" cy="418.7" rx="15.1" ry="8.1"/>
<ellipse cx="439.8" cy="416.2" rx="9.1" ry="5.2" fill="#fff" stroke="#1a1a1a" stroke-width="1.1"/>
<path d="M430.7,416.2 A9.1 5.2 0 0 0 448.9,416.2" fill="none" stroke="#111" stroke-width="2.2"/>
<path d="M434,415.2 A5.8 2.9 0 0 0 445.6,415.2" fill="none" stroke="#333" stroke-width="0.9"/>
<path class="kn" style="stroke-width:1" d="M439.8,402 L439.8,416.5"/>
<path class="k" d="M432.1,379.7 V391 A7.7 3 0 0 0 447.5,391 V379.7 Z"/>
<ellipse class="k" cx="439.8" cy="379.7" rx="7.7" ry="4.0"/>
<ellipse cx="439.8" cy="380.1" rx="5.1" ry="2.5" fill="none" stroke="#1a1a1a" stroke-width="2.2"/>
<path class="kn" style="stroke-width:1" d="M432.1,382.7 A7.7 4.0 0 0 0 447.5,382.7"/>
<path class="k" d="M432.1,448.4 V461.7 A7.7 3 0 0 0 447.5,461.7 V448.4 Z"/>
<ellipse class="k" cx="439.8" cy="448.4" rx="7.7" ry="4.0"/>
<ellipse cx="439.8" cy="448.8" rx="5.1" ry="2.5" fill="none" stroke="#1a1a1a" stroke-width="2.2"/>
<path class="kn" style="stroke-width:1" d="M432.1,451.4 A7.7 4.0 0 0 0 447.5,451.4"/>
<ellipse cx="440.8" cy="483.1" rx="9.9" ry="3.9" fill="none" stroke="#1a1a1a" stroke-width="2.1" transform="rotate(-4 440.8 483.1)"/>
<path d="M432.9,483.9 Q440.8,486.7 448.7,483.4" fill="none" stroke="#222" stroke-width="1.1"/>
<ellipse cx="440.8" cy="489.6" rx="9.9" ry="3.9" fill="none" stroke="#1a1a1a" stroke-width="2.1" transform="rotate(-4 440.8 489.6)"/>
<path d="M432.9,490.4 Q440.8,493.2 448.7,489.9" fill="none" stroke="#222" stroke-width="1.1"/>
<ellipse cx="440.8" cy="496.1" rx="9.9" ry="3.9" fill="none" stroke="#1a1a1a" stroke-width="2.1" transform="rotate(-4 440.8 496.1)"/>
<path d="M432.9,496.9 Q440.8,499.8 448.7,496.4" fill="none" stroke="#222" stroke-width="1.1"/>
<ellipse cx="440.8" cy="502.7" rx="9.9" ry="3.9" fill="none" stroke="#1a1a1a" stroke-width="2.1" transform="rotate(-4 440.8 502.7)"/>
<path d="M432.9,503.5 Q440.8,506.3 448.7,503" fill="none" stroke="#222" stroke-width="1.1"/>
<ellipse cx="440.8" cy="509.2" rx="9.9" ry="3.9" fill="none" stroke="#1a1a1a" stroke-width="2.1" transform="rotate(-4 440.8 509.2)"/>
<path d="M432.9,510 Q440.8,512.8 448.7,509.5" fill="none" stroke="#222" stroke-width="1.1"/>
<path class="k" d="M432.2,527.8 V574.8 A7.6 3.2 0 0 0 447.4,574.8 V527.8 Z"/>
<ellipse class="k" cx="439.8" cy="527.8" rx="7.6" ry="3.2"/>
<ellipse class="kn" style="stroke-width:1.6" cx="439.8" cy="528.1" rx="4.6" ry="1.9000000000000001"/>
<path class="kn" style="stroke-width:1.1" d="M432.2,537.1 A7.6 3.2 0 0 0 447.4,537.1 M432.2,539.6 A7.6 3.2 0 0 0 447.4,539.6"/>
<text x="340.8" y="417.6" font-size="14.5">13</text>
<text x="340.8" y="450" font-size="14.5">12</text>
<text x="340.8" y="490.3" font-size="14.5">10</text>
<text x="340.8" y="528.3" font-size="14.5">11</text>
<text x="347.4" y="585.3" font-size="14.5">3</text>
<path class="ld" d="M360.5,412.5 L388,412.5"/>
<path class="ld" d="M360.5,444.6 L377,444.6"/>
<path class="ld" d="M360.5,485 L388,485"/>
<path class="ld" d="M360.5,523 L383.5,523"/>
<path class="ld" d="M360.5,580 L388.4,580"/>
<text x="478" y="383.6" font-size="14.5">18</text>
<text x="478" y="417.6" font-size="14.5">17</text>
<text x="478" y="454.2" font-size="14.5">15</text>
<text x="478" y="496.3" font-size="14.5">16</text>
<text x="480" y="550.8" font-size="14.5">4</text>
<path class="ld" d="M474.6,380.4 L447.6,385.8"/>
<path class="ld" d="M474.6,415 L459,418.5"/>
<path class="ld" d="M474.6,451 L448,455"/>
<path class="ld" d="M474.6,492.5 L452,496"/>
<path class="ld" d="M474.6,548 L448,552"/>
<g>
<path class="fr" d="M553.8,463 V525 M553.8,531 V590 M553.8,596 V612"/>
<path class="k" d="M545,447 V458 Q553.5,465 562.5,458 V447 Z"/>
<path class="t" style="stroke-width:1" d="M545.5,450 Q553.5,455 562,450 M545.5,452.5 Q553.5,457.5 562,452.5 M545.5,455 Q553.5,460 562,455 M546,457.5 Q553.5,462 561.5,457.5"/>
<ellipse class="k" cx="553.7" cy="446.5" rx="9" ry="4.5"/>
<ellipse cx="553.7" cy="446.2" rx="4.2" ry="2" fill="#fff" stroke="#1a1a1a" stroke-width="1.6"/>
</g>
<text x="583" y="449" font-size="14.5">8</text>
<path class="ld" d="M562.5,453.6 L579.2,447"/>
<text x="669" y="464.5" font-size="14.5">2</text>
<path class="ld" d="M670.7,469.3 L655,501.9"/>
<path class="fr" d="M274,667.7 L286.2,674.8"/>
<path class="fr" d="M237.4,685 L263.8,699.2"/>
<g transform="translate(271.5,663.5) rotate(22)">
<path class="k" style="stroke-width:1.5" d="M-13,-9.6 L0,-9.6 A4.8 9.6 0 0 1 0,9.6 L-13,9.6 A4.8 9.6 0 0 1 -13,-9.6 Z"/>
<path class="kn" style="stroke-width:1.1" d="M-10.7,-9.299999999999999 A4.8 9.6 0 0 0 -10.7,9.299999999999999"/>
<path class="kn" style="stroke-width:1.1" d="M-8.4,-9.299999999999999 A4.8 9.6 0 0 0 -8.4,9.299999999999999"/>
<path class="kn" style="stroke-width:1.1" d="M-6,-9.299999999999999 A4.8 9.6 0 0 0 -6,9.299999999999999"/>
<path class="kn" style="stroke-width:1.1" d="M-3.7,-9.299999999999999 A4.8 9.6 0 0 0 -3.7,9.299999999999999"/>
<path class="kn" style="stroke-width:1.1" d="M-1.4,-9.299999999999999 A4.8 9.6 0 0 0 -1.4,9.299999999999999"/>
<path class="kn" style="stroke-width:1.6" d="M0,-9.6 A4.8 9.6 0 0 1 0,9.6"/>
<path class="kn" style="stroke-width:1.3" d="M-1.5,-6 A3 6 0 0 1 -1.5,6"/>
</g>
<g transform="translate(237.5,682.5) rotate(22)">
<path class="k" style="stroke-width:1.5" d="M-15,-13.5 L-9.5,-13.5 A6.75 13.5 0 0 1 -9.5,13.5 L-15,13.5 A6.75 13.5 0 0 1 -15,-13.5 Z"/>
<path class="kn" style="stroke-width:1.1" d="M-12.25,-13.2 A6.75 13.5 0 0 0 -12.25,13.2"/>
<path class="k" style="stroke-width:1.5" d="M-9.5,-10.8 L0,-10.8 A5.4 10.8 0 0 1 0,10.8 L-9.5,10.8 A5.4 10.8 0 0 0 -9.5,-10.8 Z"/>
<path class="kn" style="stroke-width:1.1" d="M-7.3,-10.5 A5.4 10.8 0 0 0 -7.3,10.5"/>
<path class="kn" style="stroke-width:1.1" d="M-4.9,-10.5 A5.4 10.8 0 0 0 -4.9,10.5"/>
<path class="kn" style="stroke-width:1.3" d="M-1,-4.9 A2.4 4.9 0 0 1 -1,4.9"/>
</g>
<text x="285.2" y="632.2" font-size="14.5">19</text>
<path class="ld" d="M284.2,638.2 L273,655.5"/>
<text x="224.2" y="642.5" font-size="14.5">20</text>
<path class="ld" d="M230.7,648.4 L230.7,666.7"/>
<path class="fr" d="M580,796 L597,806"/>
<g transform="translate(623,821) rotate(-52)">
<path class="k" d="M-23,0 L-23,-12 A23 10 0 0 1 23,-12 L23,0" style="stroke-width:1.6"/>
<ellipse class="k" cx="0" cy="0" rx="23" ry="10" style="stroke-width:1.6"/>
<ellipse cx="0" cy="0.3" rx="20.3" ry="8" fill="none" stroke="#1a1a1a" stroke-width="1.3"/>
<path d="M-10,7 Q8,6 16,-4" fill="none" stroke="#444" stroke-width="0.8"/>
</g>
<text x="643" y="771.5" font-size="14.5">7</text>
<path class="ld" d="M647,772.8 L628,798.5"/>
<path class="k" d="M384.9,890.3 V900.9 A16.5 6.5 0 0 0 417.9,900.9 V890.3 Z" style="stroke-width:1.6"/>
<ellipse class="k" cx="401.4" cy="890.3" rx="16.5" ry="6.5" style="stroke-width:1.5"/>
<ellipse cx="401.4" cy="891.1" rx="12" ry="4.5" fill="#fff" stroke="#1a1a1a" stroke-width="1.7"/>
<path class="kn" style="stroke-width:0.8" d="M384.9,893.3 A16.5 6.5 0 0 0 417.9,893.3"/>
<path class="k" d="M461,847.4 V857.7 A16.5 6.8 0 0 0 494,857.7 V847.4 Z" style="stroke-width:1.6"/>
<ellipse class="k" cx="477.5" cy="847.4" rx="16.5" ry="6.8" style="stroke-width:1.5"/>
<ellipse cx="477.5" cy="848.2" rx="12" ry="4.8" fill="#fff" stroke="#1a1a1a" stroke-width="1.7"/>
<path class="kn" style="stroke-width:0.8" d="M461,850.4 A16.5 6.8 0 0 0 494,850.4"/>
<path class="k" d="M382.1,1014 V1020.5 A19.8 7 0 0 0 421.7,1020.5 V1014 Z" style="stroke-width:1.6"/>
<path class="kn" style="stroke-width:0.9" d="M382.1,1018 A19.8 7 0 0 0 421.7,1018"/>
<ellipse class="k" cx="401.9" cy="1014" rx="19.8" ry="7.5" style="stroke-width:1.5"/>
<path class="k" d="M397.5,990.7 C397.5,1006 385.1,1011 385.1,1015 Q401.9,1021 418.7,1015 C418.7,1011 406.3,1006 406.3,990.7 Z"/>
<path class="kn" style="stroke-width:0.8" d="M389.1,1014 Q401.9,1019 414.7,1014"/>
<path class="k" d="M397.5,992.7 V913 Q401.9,909.5 406.3,913 V992.7 Z"/>
<path class="kn" style="stroke-width:0.9" d="M397.5,916 Q401.9,918 406.3,916 M397.5,918 Q401.9,920 406.3,918 M397.5,990.7 Q401.9,992.7 406.3,990.7 M397.5,993.2 Q401.9,995.2 406.3,993.2"/>
<path class="k" d="M457,972.3 V977.9 A19.6 7 0 0 0 496.2,977.9 V972.3 Z" style="stroke-width:1.6"/>
<path class="kn" style="stroke-width:0.9" d="M457,975.4 A19.6 7 0 0 0 496.2,975.4"/>
<ellipse class="k" cx="476.6" cy="972.3" rx="19.6" ry="7.5" style="stroke-width:1.5"/>
<path class="k" d="M472.2,951 C472.2,964.3 460,969.3 460,973.3 Q476.6,979.3 493.2,973.3 C493.2,969.3 481,964.3 481,951 Z"/>
<path class="kn" style="stroke-width:0.8" d="M464,972.3 Q476.6,977.3 489.2,972.3"/>
<path class="k" d="M472.2,953 V871.7 Q476.6,868.2 481,871.7 V953 Z"/>
<path class="kn" style="stroke-width:0.9" d="M472.2,874.7 Q476.6,876.7 481,874.7 M472.2,876.7 Q476.6,878.7 481,876.7 M472.2,951 Q476.6,953 481,951 M472.2,953.5 Q476.6,955.5 481,953.5"/>
<text x="354" y="903.2" font-size="14.5">5</text>
<path class="ld" d="M365.2,897.4 L385,897.4"/>
<text x="353.2" y="961.8" font-size="14.5">9</text>
<path class="ld" d="M365.2,957.8 L397.5,957.8"/>
<text x="512.3" y="853" font-size="14.5">6</text>
<path class="ld" d="M494,851.3 L507.5,849"/>
<text x="513.3" y="913.5" font-size="14.5">14</text>
<path class="ld" d="M481.3,917 L508.4,911.7"/>
<g id="gasket">
<path d="M257,1183 C259.7,1181.5 266.4,1177.7 273,1174 C279.6,1170.3 284.1,1167.8 296.5,1161 C308.9,1154.2 333.7,1140.4 347.6,1133 C361.5,1125.6 369.3,1122.3 380.1,1116.5 C390.9,1110.7 401,1104.2 412.6,1098 C424.2,1091.8 440.7,1083.9 449.8,1079 C458.9,1074.1 462.6,1072 467,1068.5 C471.4,1065 471.8,1061.9 476,1058 C480.2,1054.1 482.3,1051.5 492,1045 C501.7,1038.5 523,1025.8 534,1019 C545,1012.2 549.5,1009.3 558,1004.5 C566.5,999.7 575.5,994.5 585,990 C594.5,985.5 607.7,980.3 615,977.5 C622.3,974.7 623.1,972.7 628.6,973 C634.1,973.3 637.8,976.3 648,979.5 C658.2,982.7 678.5,985.9 690,992 C701.5,998.1 703.5,1006.3 717,1016 C730.5,1025.7 762,1044.3 771,1050 Q776,1053 772,1057 L500,1226.4 L407.3,1266.3 Q396,1273 390,1270 L259,1191 Q253,1187 258,1184 Z" fill="none" stroke="#1a1a1a" stroke-linejoin="round" stroke-linecap="round" stroke-width="2"/>
<path d="M283,1201 C283.1,1199.2 283,1193.8 283.5,1190 C284,1186.2 282.7,1182 286,1178.5 C289.3,1175 293.2,1174.9 303.4,1169 C313.6,1163.1 338.9,1148.8 347,1143 C355.1,1137.2 349.5,1136.3 352,1134 C354.5,1131.7 358.5,1131.1 362,1129 C365.5,1126.9 368.4,1124.7 373,1121.5 C377.6,1118.3 382.8,1113.5 389.4,1110 C396,1106.5 405.6,1103.2 412.6,1100.7 C419.6,1098.2 426.2,1096.7 431.2,1094.9 C436.2,1093.2 437.4,1092.5 442.8,1090.2 C448.2,1087.9 459.3,1084.5 463.8,1081 C468.3,1077.5 467.6,1072.8 469.6,1069.3 C471.6,1065.8 470.9,1063.2 476,1060 C481.1,1056.8 491,1054.7 500,1050 C509,1045.3 522.5,1036 530,1032 C537.5,1028 540,1029 545,1026 C550,1023 550.8,1018.3 560,1014 C569.2,1009.7 586.7,1003.3 600,1000 C613.3,996.7 626.7,994.6 640,994 C653.3,993.4 670.7,994.9 680,996.4 C689.3,997.9 691.6,1000.3 696,1002.8 C700.4,1005.3 703.6,1008.1 706.6,1011.3 C709.6,1014.5 712.3,1018.8 714.1,1022 C715.9,1025.2 716.9,1028.4 717.3,1030.5 C717.6,1032.6 717.5,1033.3 716.2,1034.7 C715,1036.1 711.2,1037.6 709.8,1039 C708.4,1040.4 708,1041.4 707.7,1043.2 C707.4,1045 708.4,1047.5 708.2,1049.6 C708,1051.7 707.8,1053.5 706.6,1056 C705.5,1058.5 704,1061.7 701.3,1064.5 C698.6,1067.3 694.1,1070.8 690.6,1073.1 C687.1,1075.4 681.8,1077.5 680,1078.4" fill="none" stroke="#1a1a1a" stroke-linejoin="round" stroke-linecap="round" stroke-width="1.1"/>
<path d="M283,1201 L395,1262 L500,1219 L680,1115 L760,1068" fill="none" stroke="#1a1a1a" stroke-linejoin="round" stroke-linecap="round" stroke-width="1"/>
<ellipse cx="366.2" cy="1190" rx="57.4" ry="32.4" fill="none" stroke="#1a1a1a" stroke-linejoin="round" stroke-linecap="round" stroke-width="1.7"/>
<ellipse cx="366.2" cy="1190" rx="55.4" ry="30.6" fill="none" stroke="#1a1a1a" stroke-linejoin="round" stroke-linecap="round" stroke-width="0.8"/>
<ellipse cx="446.5" cy="1142" rx="57.4" ry="32.6" fill="none" stroke="#1a1a1a" stroke-linejoin="round" stroke-linecap="round" stroke-width="1.7"/>
<ellipse cx="446.5" cy="1142" rx="55.4" ry="30.8" fill="none" stroke="#1a1a1a" stroke-linejoin="round" stroke-linecap="round" stroke-width="0.8"/>
<ellipse cx="550.5" cy="1083" rx="58.3" ry="34" fill="none" stroke="#1a1a1a" stroke-linejoin="round" stroke-linecap="round" stroke-width="1.7"/>
<ellipse cx="550.5" cy="1083" rx="56.3" ry="32.2" fill="none" stroke="#1a1a1a" stroke-linejoin="round" stroke-linecap="round" stroke-width="0.8"/>
<ellipse cx="631.6" cy="1035" rx="57.8" ry="33.8" fill="none" stroke="#1a1a1a" stroke-linejoin="round" stroke-linecap="round" stroke-width="1.7"/>
<ellipse cx="631.6" cy="1035" rx="55.8" ry="32" fill="none" stroke="#1a1a1a" stroke-linejoin="round" stroke-linecap="round" stroke-width="0.8"/>
<ellipse cx="273" cy="1190" rx="10.2" ry="6.1" fill="none" stroke="#1a1a1a" stroke-linejoin="round" stroke-linecap="round" stroke-width="1.6"/>
<ellipse cx="360.1" cy="1138" rx="10.2" ry="6.1" fill="none" stroke="#1a1a1a" stroke-linejoin="round" stroke-linecap="round" stroke-width="1.6"/>
<ellipse cx="450.9" cy="1087.2" rx="10.2" ry="6.1" fill="none" stroke="#1a1a1a" stroke-linejoin="round" stroke-linecap="round" stroke-width="1.6"/>
<ellipse cx="452" cy="1198.5" rx="10.2" ry="6.1" fill="none" stroke="#1a1a1a" stroke-linejoin="round" stroke-linecap="round" stroke-width="1.6"/>
<ellipse cx="367.4" cy="1247" rx="10.2" ry="6.1" fill="none" stroke="#1a1a1a" stroke-linejoin="round" stroke-linecap="round" stroke-width="1.6"/>
<ellipse cx="628.6" cy="984" rx="10.2" ry="6.1" fill="none" stroke="#1a1a1a" stroke-linejoin="round" stroke-linecap="round" stroke-width="1.6"/>
<ellipse cx="540" cy="1035" rx="10.2" ry="6.1" fill="none" stroke="#1a1a1a" stroke-linejoin="round" stroke-linecap="round" stroke-width="1.6"/>
<ellipse cx="631.6" cy="1093.5" rx="10.2" ry="6.1" fill="none" stroke="#1a1a1a" stroke-linejoin="round" stroke-linecap="round" stroke-width="1.6"/>
<ellipse cx="398.8" cy="1240.9" rx="3.5" ry="2.4" fill="none" stroke="#1a1a1a" stroke-linejoin="round" stroke-linecap="round" stroke-width="1.1"/>
<ellipse cx="539" cy="1019.4" rx="3.5" ry="2.4" fill="none" stroke="#1a1a1a" stroke-linejoin="round" stroke-linecap="round" stroke-width="1.1"/>
<ellipse cx="660" cy="1090.5" rx="3.5" ry="2.4" fill="none" stroke="#1a1a1a" stroke-linejoin="round" stroke-linecap="round" stroke-width="1.1"/>
<ellipse cx="721" cy="1043.8" rx="9.3" ry="5.9" fill="none" stroke="#1a1a1a" stroke-linejoin="round" stroke-linecap="round" stroke-width="1.8"/>
<ellipse cx="739.1" cy="1050.2" rx="9.4" ry="6.2" fill="none" stroke="#1a1a1a" stroke-linejoin="round" stroke-linecap="round" stroke-width="1.8"/>
<ellipse cx="739.1" cy="1050.2" rx="5.3" ry="3.3" fill="none" stroke="#1a1a1a" stroke-linejoin="round" stroke-linecap="round" stroke-width="1.2"/>
<path d="M730,1041 L739,1044 M720,1049.8 L730,1053.5" fill="none" stroke="#1a1a1a" stroke-linejoin="round" stroke-linecap="round" stroke-width="0.9"/>
<rect x="-23" y="-4.5" width="46" height="9" rx="4.5" transform="translate(320.2,1159) rotate(-26) skewX(0)" fill="none" stroke="#1a1a1a" stroke-linejoin="round" stroke-linecap="round" stroke-width="1.6"/><rect x="-25" y="-6.5" width="50" height="13" rx="6.5" transform="translate(320.2,1159) rotate(-26)" fill="none" stroke="#1a1a1a" stroke-linejoin="round" stroke-linecap="round" stroke-width="0.7"/>
<rect x="-24" y="-5.5" width="48" height="11" rx="5.5" transform="translate(433.2,1230) rotate(-26) skewX(0)" fill="none" stroke="#1a1a1a" stroke-linejoin="round" stroke-linecap="round" stroke-width="1.6"/><rect x="-26" y="-7.5" width="52" height="15" rx="7.5" transform="translate(433.2,1230) rotate(-26)" fill="none" stroke="#1a1a1a" stroke-linejoin="round" stroke-linecap="round" stroke-width="0.7"/>
<rect x="-24" y="-5.5" width="48" height="11" rx="5.5" transform="translate(519,1182) rotate(-26) skewX(0)" fill="none" stroke="#1a1a1a" stroke-linejoin="round" stroke-linecap="round" stroke-width="1.6"/><rect x="-26" y="-7.5" width="52" height="15" rx="7.5" transform="translate(519,1182) rotate(-26)" fill="none" stroke="#1a1a1a" stroke-linejoin="round" stroke-linecap="round" stroke-width="0.7"/>
<rect x="-24" y="-5.5" width="48" height="11" rx="5.5" transform="translate(606,1132.6) rotate(-26) skewX(0)" fill="none" stroke="#1a1a1a" stroke-linejoin="round" stroke-linecap="round" stroke-width="1.6"/><rect x="-26" y="-7.5" width="52" height="15" rx="7.5" transform="translate(606,1132.6) rotate(-26)" fill="none" stroke="#1a1a1a" stroke-linejoin="round" stroke-linecap="round" stroke-width="0.7"/>
<rect x="-24" y="-5.5" width="48" height="11" rx="5.5" transform="translate(696.7,1080) rotate(-26) skewX(0)" fill="none" stroke="#1a1a1a" stroke-linejoin="round" stroke-linecap="round" stroke-width="1.6"/><rect x="-26" y="-7.5" width="52" height="15" rx="7.5" transform="translate(696.7,1080) rotate(-26)" fill="none" stroke="#1a1a1a" stroke-linejoin="round" stroke-linecap="round" stroke-width="0.7"/>
<rect x="-12.5" y="-6.5" width="25" height="13" rx="4" transform="translate(402,1252) rotate(-26) skewX(0)" fill="none" stroke="#1a1a1a" stroke-linejoin="round" stroke-linecap="round" stroke-width="1.8"/>
<rect x="-12.5" y="-6.5" width="25" height="13" rx="4" transform="translate(484.5,1205) rotate(-26) skewX(0)" fill="none" stroke="#1a1a1a" stroke-linejoin="round" stroke-linecap="round" stroke-width="1.8"/>
<rect x="-12.5" y="-6.5" width="25" height="13" rx="4" transform="translate(565.5,1156.6) rotate(-26) skewX(0)" fill="none" stroke="#1a1a1a" stroke-linejoin="round" stroke-linecap="round" stroke-width="1.8"/>
<rect x="-12.5" y="-6.5" width="25" height="13" rx="4" transform="translate(655.6,1105.5) rotate(-26) skewX(0)" fill="none" stroke="#1a1a1a" stroke-linejoin="round" stroke-linecap="round" stroke-width="1.8"/>
<path class="ld" d="M708,980 L690,993"/>
</g>
<text x="709.6" y="975.2" font-size="14">21</text>
<text x="810.5" y="1066.3" font-size="13.5">24</text>
<path class="ld" d="M818.2,1077.4 L818.2,1098.7"/>
<rect x="725.6" y="1098.7" width="181.1" height="187.2" fill="none" stroke="#777" stroke-width="1.1"/>
<g font-size="19" text-anchor="middle" style="fill:#111">
<text x="815.2" y="1122.9" textLength="123" lengthAdjust="spacingAndGlyphs">Valve Train Kit</text>
<text x="815.2" y="1161.4" textLength="112.4" lengthAdjust="spacingAndGlyphs">Kit Soupapes</text>
<text x="814.7" y="1197.8" textLength="81.4" lengthAdjust="spacingAndGlyphs">Ventilsatz</text>
<text x="815.8" y="1234.6" textLength="154.5" lengthAdjust="spacingAndGlyphs">Kits Treno Valvole</text>
<text x="815.2" y="1271.4" textLength="154.9" lengthAdjust="spacingAndGlyphs">Juego de Valvulas</text>
</g>
<g id="logo">
<g fill="none" stroke="#1d5299" stroke-width="2.9">
<circle cx="1001.2" cy="1420.8" r="6.9"/>
<circle cx="1018.6" cy="1420.8" r="6.9"/>
<circle cx="1001.2" cy="1437.6" r="6.9"/>
<circle cx="1018.6" cy="1437.6" r="6.9"/>
</g>
<g stroke="#1d5299" stroke-width="2.6" stroke-linecap="butt">
<path d="M996.5,1425.5 L1006,1416"/>
<path d="M1013.8,1416 L1023.3,1425.5"/>
<path d="M996.5,1433 L1006,1442.5"/>
<path d="M1013.8,1442.5 L1023.3,1433"/>
</g>
<path d="M1009.9,1413 L1011.5,1417 L1009.9,1421 L1008.3,1417 Z M1009.9,1437 L1011.5,1441 L1009.9,1445 L1008.3,1441 Z M993,1429.2 L997,1427.6 L1001,1429.2 L997,1430.8 Z M1019,1429.2 L1023,1427.6 L1027,1429.2 L1023,1430.8 Z" fill="#1d5299"/>
<text x="992" y="1458.8" font-size="12" font-weight="bold" style="fill:#1d5299" textLength="35" lengthAdjust="spacingAndGlyphs">Perkins</text>
<circle cx="1028.5" cy="1451" r="0.9" fill="#1d5299"/>
</g>

</svg>
</body></html>
